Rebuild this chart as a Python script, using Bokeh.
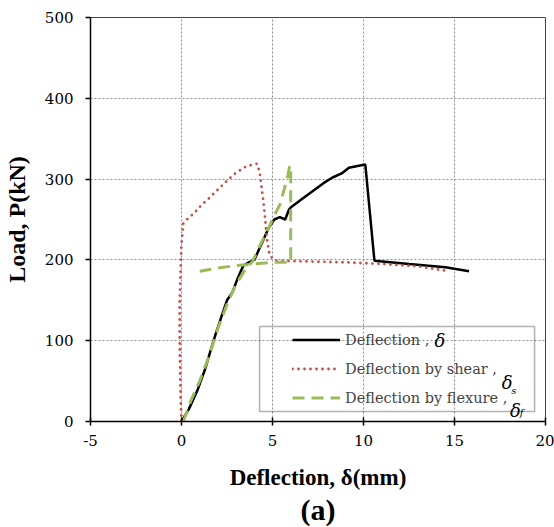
from bokeh.plotting import figure
from bokeh.models import Legend, LegendItem, Label, Title, BoxAnnotation, FixedTicker, PrintfTickFormatter
from bokeh.embed import file_html
from bokeh.resources import INLINE

# Total deflection
total_x = [0, 0.4, 0.9, 1.3, 1.6, 1.9, 2.2, 2.5, 2.8, 3.1, 3.4, 3.7, 4.0, 4.4, 4.8, 5.1, 5.4, 5.7, 5.9, 6.0,
           6.6, 7.2, 7.8, 8.3, 8.8, 9.2, 9.6, 10.1, 10.6, 12.5, 14.5, 15.8]
total_y = [0, 15, 40, 65, 88, 110, 130, 150, 160, 178, 193, 197, 200, 220, 240, 250, 253, 250, 262, 265,
           275, 285, 295, 302, 307, 314, 316, 318, 199, 195, 191, 186]

# Deflection by shear
shear_x = [0, -0.05, -0.08, -0.1, -0.1, -0.05, 0.0, 0.1, 0.3, 0.7, 1.1, 1.5, 2.0, 2.5, 3.0, 3.5, 3.9, 4.15,
           4.3, 4.4, 4.5, 4.6, 4.7, 4.85, 5.2, 7.0, 9.0, 11.0, 13.0, 14.7]
shear_y = [0, 30, 70, 110, 150, 190, 220, 245, 250, 258, 268, 276, 287, 298, 308, 315, 318, 319,
           308, 290, 272, 250, 225, 205, 199, 198, 197, 195, 192, 186]

# Deflection by flexure
flex_x = [0.1, 0.5, 1.0, 1.5, 2.0, 2.5, 3.0, 3.5, 3.9, 4.4, 4.8, 5.1, 5.4, 5.65, 5.85, 5.95, 6.0, 6.0,
          5.0, 4.0, 3.0, 2.0, 1.0]
flex_y = [0, 25, 50, 80, 115, 145, 170, 188, 198, 222, 240, 255, 268, 288, 305, 317, 310, 197,
          197, 195, 193, 190, 186]

x_ticks = [-5, 0, 5, 10, 15, 20]
y_ticks = [0, 100, 200, 300, 400, 500]
legend_labels = ["Deflection ,", "Deflection by shear ,", "Deflection by flexure ,"]

BOLD_FONT = "Liberation Serif"
FONT = "DejaVu Serif"

p = figure(width=554, height=527, x_range=(-5, 20), y_range=(0, 500),
           output_backend="svg", toolbar_location=None,
           min_border_left=90, min_border_right=9, min_border_top=17, min_border_bottom=106)

p.outline_line_color = "#444444"
p.outline_line_width = 1

for ax in (p.xaxis[0], p.yaxis[0]):
    ax.axis_line_color = "black"
    ax.axis_line_width = 1.5
    ax.major_tick_line_color = "black"
    ax.major_tick_line_width = 1.5
    ax.minor_tick_line_color = None
    ax.major_label_text_font = FONT
    ax.major_label_text_font_size = "15px"
    ax.major_label_text_color = "black"
    ax.axis_label_text_font = BOLD_FONT
    ax.axis_label_text_font_style = "bold"
    ax.axis_label_text_color = "black"
    ax.formatter = PrintfTickFormatter(format="%d")

p.xaxis.ticker = FixedTicker(ticks=x_ticks)
p.yaxis.ticker = FixedTicker(ticks=y_ticks)
p.xaxis.major_tick_in = 4
p.xaxis.major_tick_out = 4
p.yaxis.major_tick_in = 0
p.yaxis.major_tick_out = 5
p.xaxis.axis_label = "Deflection, δ(mm)"
p.yaxis.axis_label = "Load, P(kN)"
p.xaxis.axis_label_text_font_size = "23px"
p.yaxis.axis_label_text_font_size = "24px"
p.xaxis.major_label_standoff = 9
p.xaxis.axis_label_standoff = 16
p.yaxis.major_label_standoff = 12
p.yaxis.axis_label_standoff = 12

for g in (p.xgrid[0], p.ygrid[0]):
    g.grid_line_color = "#8c8c8c"
    g.grid_line_dash = "2 2"
    g.grid_line_width = 1

r_total = p.line(total_x, total_y, line_color="black", line_width=2.5)
r_shear = p.line(shear_x, shear_y, line_color="#C0504D", line_width=2.8,
                 line_dash="0 6", line_cap="round")
r_flex = p.line(flex_x, flex_y, line_color="#9BBB59", line_width=3,
                line_dash="12 7")

legend = Legend(items=[LegendItem(label=legend_labels[0], renderers=[r_total]),
                       LegendItem(label=legend_labels[1], renderers=[r_shear]),
                       LegendItem(label=legend_labels[2], renderers=[r_flex])],
                location=(197, 8), orientation="vertical",
                label_text_font=FONT, label_text_font_size="14.5px",
                glyph_width=48, glyph_height=21, label_height=21, label_standoff=5,
                spacing=8, padding=5, margin=0,
                border_line_alpha=0, background_fill_alpha=0)
p.add_layout(legend, "center")

box = BoxAnnotation(left=4.29, right=19.4, bottom=12.4, top=117.6,
                    fill_alpha=0, line_color="black", line_width=1.5)
p.add_layout(box)

# italic delta symbols after the legend labels
def sym(x, y, t, size):
    p.add_layout(Label(x=x, y=y, text=t, text_font=FONT, text_font_style="italic",
                       text_font_size=size, text_baseline="alphabetic", text_color="black"))

sym(13.9, 100, "δ", "18px")
sym(17.6, 48, "δ", "18px")
sym(18.12, 38, "s", "10px")
sym(18.05, 13.6, "δ", "18px")
sym(18.58, 11, "f", "10px")

p.add_layout(Title(text="(a)", align="center", text_font=BOLD_FONT, text_font_size="30px",
                   text_font_style="bold", text_color="black", standoff=-3), "below")

open("out.html", "w").write(file_html(p, INLINE))
